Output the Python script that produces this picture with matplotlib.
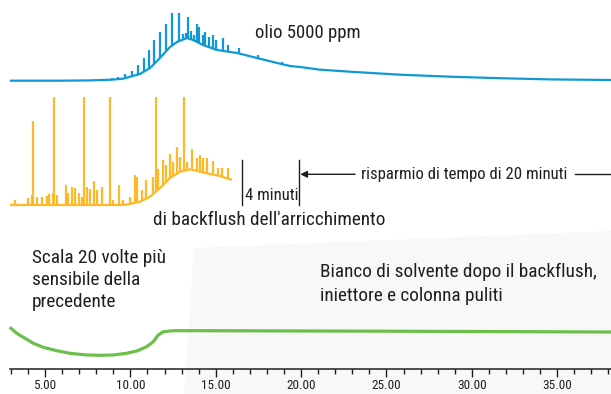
import numpy as np
import matplotlib.pyplot as plt
from matplotlib import font_manager
from matplotlib.patches import Polygon

# pick a narrow sans if one is around
names = {f.name for f in font_manager.fontManager.ttflist}
font = 'DejaVu Sans'
for cand in ['Liberation Sans Narrow', 'Roboto Condensed', 'Open Sans Condensed']:
    if cand in names:
        font = cand
        break
plt.rcParams['font.family'] = [font, 'DejaVu Sans']
plt.rcParams['font.stretch'] = 'condensed'

# --- olio 5000 ppm (blue): hump + peaks, minutes vs signal
blue_t = [3.0, 5.87, 7.63, 8.9, 9.57, 10.56, 11.15, 11.73, 12.32, 12.73, 13.31, 13.67,
          14.25, 15.07, 16.24, 17.42, 18.59, 19.35, 19.94, 21.11, 22.87, 25.79, 28.72,
          31.65, 34.58, 38.15]
blue_y = [0, 0, 0.3, 1, 2, 6.7, 12.7, 22.7, 33.7, 38.7, 42.7, 40.7, 35.7, 30.7, 27.7,
          22.7, 17.7, 14.7, 13.7, 11, 9, 6, 4, 2.5, 1.3, 0.7]
blue_pk_t = [8.9, 9.27, 9.68, 10.09, 10.44, 10.80, 11.09, 11.38, 11.73, 12.09, 12.44,
             12.85, 13.08, 13.26, 13.37, 13.55, 13.73, 13.90, 14.02, 14.25, 14.37, 14.60,
             14.84, 15.02, 15.42, 15.72, 16.36, 17.47, 18.88, 20.40, 22.4, 24.74]
blue_pk_y = [3, 4, 7, 10, 16, 23, 31, 41, 49, 57, 68, 68, 47, 48, 64, 50, 46, 57, 54,
             46, 49, 44, 46, 41, 43, 36, 33, 26, 19, 14, 10.5, 7]

# --- backflush run (orange)
orng_t = [3.0, 9.39, 9.80, 10.56, 11.15, 11.73, 12.32, 12.91, 13.49, 14.08, 14.66,
          15.25, 15.83, 15.89]
orng_y = [0, 0, 0.5, 3.3, 8.3, 17, 27, 33.3, 35.7, 33.3, 31, 29, 25.7, 25.5]
orng_pk_t = [4.31, 5.54, 7.28, 8.80, 11.50, 13.12,
             3.24, 4.02, 4.22, 4.51, 4.80, 5.10, 5.25, 5.45, 5.68, 6.23, 6.36, 6.56,
             6.75, 6.99, 7.15, 7.48, 7.63, 7.87, 8.03, 8.32, 9.00, 9.35, 9.58, 9.98,
             10.27, 10.40, 10.66, 10.91, 11.31, 11.63, 11.93, 12.07, 12.32, 12.51,
             12.71, 12.91, 13.30, 13.63, 13.89, 14.08, 14.27, 14.50, 14.86, 15.15,
             15.34, 15.73]
orng_pk_y = [84.3, 107.7, 107.7, 107.7, 107.7, 107.7,
             5, 6.7, 10, 7.7, 7.7, 9, 11, 11.7, 10, 20, 11.7, 17.7,
             16.7, 11.7, 7.7, 18.3, 15.7, 24.3, 15, 17.7, 5, 20, 5, 8.3,
             30, 27.7, 15, 25, 27.7, 35.7, 45, 40, 51, 43.3,
             58.3, 48.3, 43.3, 55.7, 46.7, 50, 46.7, 46.7, 44.3, 36.7,
             36.7, 36.7]

# --- solvent blank (green), 20x scale
grn_t = [3.0, 3.34, 3.83, 4.31, 4.90, 5.68, 6.46, 7.44, 8.22, 9.0, 9.78, 10.37, 10.95,
         11.34, 11.63, 11.93, 12.51, 14.08, 25.0, 38.15]
grn_y = [2.4, -2.6, -7.6, -12.6, -16.6, -20, -22.6, -24.3, -24.6, -24.3, -22.6, -20.3,
         -16, -11, -4.3, -1, 0, 0, -0.5, -1.3]

tick_major = [5, 10, 15, 20, 25, 30, 35]

BLUE = '#0f9ad6'
ORANGE = '#fdb927'
GREEN = '#6cbf4b'
INK = '#1f1f1f'

fig = plt.figure(figsize=(6.11, 3.94), dpi=100)
# faint panel behind the lower trace
fig.add_artist(Polygon([(194/611, 1-248/394), (1, 1-231/394), (1, 0), (184/611, 0)],
                       closed=True, transform=fig.transFigure, fc='#f8f8f8', ec='none',
                       zorder=0))
ax = fig.add_axes([10/611, 24.7/394, 601/611, 369.3/394])
ax.set_facecolor('none')
ax.set_xlim(2.947, 38.15)
ax.set_ylim(0, 369.3)

off_blue, off_orng, off_grn = 288.6, 164.3, 38.6

def trace(t, y, pt, py, off, color, lw):
    t = np.asarray(t); y = np.asarray(y)
    ax.plot(t, y + off, color=color, lw=lw, solid_joinstyle='round', clip_on=False)
    base = np.interp(pt, t, y) + off
    ax.vlines(pt, base, np.asarray(py) + off, color=color, lw=lw)

trace(blue_t, blue_y, blue_pk_t, blue_pk_y, off_blue, BLUE, 1.6)
trace(orng_t, orng_y, orng_pk_t, orng_pk_y, off_orng, ORANGE, 1.6)
ax.plot(grn_t, np.asarray(grn_y) + off_grn, color=GREEN, lw=2.3, clip_on=False)

fs = 13.9
fs_small = 12.1
ax.text(17.30, 336.3, 'olio 5000 ppm', fontsize=13.5, color=INK, va='center')

# backflush markers
for tx in (16.51, 19.89):
    ax.plot([tx, tx], [164.3, 209.3], color=INK, lw=1)
ax.text(16.71, 173.3, '4 minuti', fontsize=fs_small, color=INK, va='center')
ax.annotate('', xy=(19.95, 195), xytext=(23.16, 195),
            arrowprops=dict(arrowstyle='-|>', color=INK, lw=1, mutation_scale=10,
                            shrinkA=0, shrinkB=0))
ax.text(23.51, 195, 'risparmio di tempo di 20 minuti', fontsize=fs_small, color=INK,
        va='center')
ax.plot([36.04, 38.15], [195, 195], color=INK, lw=1, clip_on=False)
ax.text(11.32, 149.3, "di backflush dell'arricchimento", fontsize=fs, color=INK, va='center')

for i, line in enumerate(['Scala 20 volte più', 'sensibile della', 'precedente']):
    ax.text(4.24, 111.3 - 22 * i, line, fontsize=fs, color=INK, va='center')
for i, line in enumerate(['Bianco di solvente dopo il backflush,', 'iniettore e colonna puliti']):
    ax.text(21.11, 97.3 - 24 * i, line, fontsize=fs, color=INK, va='center')

for s in ('top', 'left', 'right'):
    ax.spines[s].set_visible(False)
ax.spines['bottom'].set_color(INK)
ax.spines['bottom'].set_linewidth(1.1)
ax.set_yticks([])
ax.set_xticks(tick_major)
ax.set_xticklabels(['%.2f' % v for v in tick_major])
ax.set_xticks(np.arange(3, 39), minor=True)
ax.tick_params(axis='x', which='major', length=5.5, width=1, color=INK, labelsize=9.5,
               pad=1.5, labelcolor=INK)
ax.tick_params(axis='x', which='minor', length=3.6, width=1, color=INK)

fig.savefig('out.png', dpi=100)
